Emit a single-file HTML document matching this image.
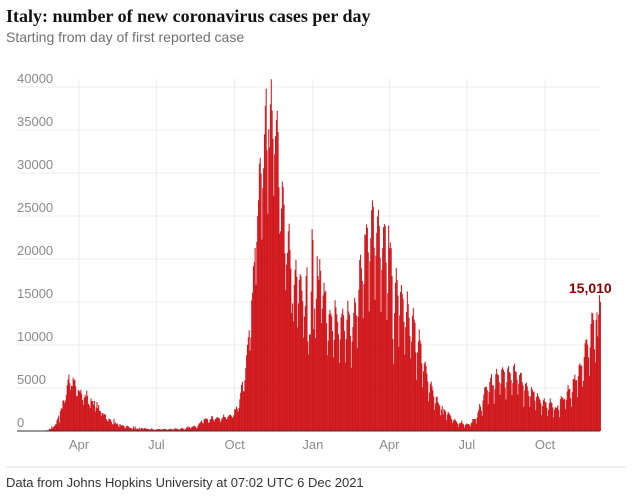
<!DOCTYPE html>
<html><head><meta charset="utf-8">
<style>
body{margin:0;background:#fff;width:640px;height:500px;overflow:hidden}
svg{display:block}
</style></head>
<body>
<svg id="chart" width="640" height="500" xmlns="http://www.w3.org/2000/svg">
<text x="6" y="22" font-family="Liberation Serif, serif" font-weight="bold" font-size="18" fill="#121212">Italy: number of new coronavirus cases per day</text>
<text x="6" y="42" font-family="Liberation Sans, sans-serif" font-size="14" fill="#707070">Starting from day of first reported case</text>
<g id="grid"></g>
<g id="bars"></g>
<g id="axes"></g>
<line x1="6" y1="467" x2="626" y2="467" stroke="#dcdcdc" stroke-width="1"/>
<text x="6" y="487" font-family="Liberation Sans, sans-serif" font-size="13" fill="#333">Data from Johns Hopkins University at 07:02 UTC 6 Dec 2021</text>
</svg>
<script>
const startDate = [2020, 0, 31];
const cases2020 = [0,
0,0,0,0,0,0,0,0,0,0,0,0,0,0,0,0,0,0,0,0,17,62,76,93,78,250,238,240,566,
342,466,587,769,778,1247,1492,1797,977,2313,2651,2547,3497,3590,3233,3526,4207,5322,5986,6557,5560,4789,5249,5210,6203,5909,5974,5217,4050,4053,4782,
4668,4585,4805,4316,3599,3039,3836,4204,3951,4694,4092,3153,2972,2667,3786,3493,3491,3047,3491,2256,2729,3370,2646,3021,2357,2324,1739,2091,2086,1872,
1965,1900,1389,1221,1075,1444,1401,1327,1083,802,744,1402,888,992,789,875,675,451,813,665,642,652,669,531,300,397,584,593,516,416,355,
318,321,177,518,270,518,197,280,283,202,379,163,346,338,301,210,329,333,251,262,224,218,122,190,296,259,175,174,126,142,
187,201,223,235,192,208,138,193,229,276,188,234,169,114,162,230,233,249,219,190,129,282,306,252,275,255,170,181,212,289,379,
295,239,159,190,384,402,552,347,463,259,412,481,523,574,629,479,320,403,642,845,947,1071,1210,953,878,1367,1411,1462,1444,1365,996,
978,1326,1397,1733,1695,1297,1108,1370,1434,1597,1616,1501,1458,1008,1229,1452,1585,1907,1638,1587,1350,1392,1640,1786,1869,1912,1766,1494,1648,1851,
2548,2499,2844,2578,2257,2677,3678,4458,5372,5724,4619,4621,5901,7332,8804,10010,10925,11705,9338,10874,15199,16079,19143,19644,21273,17012,21994,24991,26831,31084,31758,
29907,22253,28244,30550,34505,37809,39811,32616,25271,35098,32961,37978,40902,37255,33979,27354,32191,34282,36176,37242,34767,28337,22930,23232,25853,29003,28352,26323,20648,16377,
19350,20709,23225,24099,21052,18887,13720,14842,12756,16999,18727,19903,17938,12030,14844,17572,18236,17992,16308,15104,10872,13318,14522,18040,19037,10407,8913,11212,11224,16202,23477];
const cases2021 = [
22211,11831,14245,10800,15378,20331,18020,17533,19978,18627,12545,14242,15774,17246,16146,16310,12545,8824,10497,13571,14078,13633,13331,11629,8562,10593,15204,14372,13574,12715,11252,
7925,10630,13189,13659,14218,13442,11641,7970,10680,12956,15146,13908,13532,11068,7351,10386,12074,13762,15479,14931,13452,9630,13314,16424,19886,20499,18916,17455,
13114,17083,22865,22774,24036,23641,20765,13902,19749,22409,25673,26824,26062,21315,15267,20396,23059,24935,25735,23832,20159,13846,18765,21267,23696,24076,23839,19611,12916,16017,23904,
21261,21932,21261,18024,10680,7767,13708,17221,18938,17567,15746,9789,13447,16168,16974,15943,15370,12694,8864,12074,13844,16232,14761,13176,11068,8444,10404,13385,14320,12965,
12603,9148,5948,9116,10404,11807,10554,10176,7852,5080,6946,7852,8085,7567,6659,5753,3455,4452,5506,5741,5218,4717,3995,2490,3224,3937,3995,3351,3147,2949,1820,
2483,2897,1896,2557,2436,2275,1273,1896,2199,2079,1901,1723,1390,907,1199,1255,1400,1197,1055,881,495,835,951,927,1209,887,776,389,679,776,
882,794,808,722,480,907,1010,1394,1390,1400,1391,888,1552,2153,2455,3127,2840,2379,1725,3558,4259,5057,5143,5140,4743,3117,4522,5696,6171,6619,5321,
5321,3190,4845,6596,7230,6599,6500,5664,4197,5512,7162,7409,7126,6857,5023,3674,5676,7260,7548,6860,6700,5922,4168,5559,7548,7826,6927,6860,5959,4257,5498,
6503,6761,6735,5693,5315,2800,4720,5498,5621,5193,4664,4058,2800,4021,5117,4830,4552,4578,3525,2407,3970,4405,4061,3797,3623,3212,1831,2900,3585,3804,
3405,3312,2700,1734,2466,3235,3794,3372,3221,2748,1597,2494,2772,2668,2732,2983,2437,1597,3702,4054,3882,3864,3598,3725,2535,3620,4598,5335,4866,4878,3821,
2818,4526,6019,6049,6550,5879,5917,3917,6372,7685,7884,7569,7622,5144,5825,8605,10212,10629,10638,10047,8560,6404,9709,12448,13764,13686,12877,9503,7973,12930,
13800,11000,13500,15800,15010];
const yTicks = [0,5000,10000,15000,20000,25000,30000,35000,40000];
const monthTicks = [[2020,3,1,"Apr"],[2020,6,1,"Jul"],[2020,9,1,"Oct"],[2021,0,1,"Jan"],[2021,3,1,"Apr"],[2021,6,1,"Jul"],[2021,9,1,"Oct"]];
const lastLabel = "15,010";

const cases = cases2020.concat(cases2021);
const NS = "http://www.w3.org/2000/svg";
const DAY = 86400000;
const t0 = Date.UTC(startDate[0], startDate[1], startDate[2]);
const ppd = 0.8504;
const xRef = Date.UTC(2020,3,1);
function xDay(i){ return 79 + ((t0 + i*DAY) - xRef)/DAY*ppd; }
function xDate(y,m,d){ return 79 + (Date.UTC(y,m,d) - xRef)/DAY*ppd; }
function yv(v){ return 431 - v/40000*344; }
function mk(tag, attrs, parent){ const e=document.createElementNS(NS,tag); for(const k in attrs) e.setAttribute(k,attrs[k]); parent.appendChild(e); return e; }

const grid = document.getElementById('grid');
const bars = document.getElementById('bars');
const axes = document.getElementById('axes');

yTicks.forEach(v=>{
  const y = yv(v);
  const l = mk('line',{x1:17,x2:600,y1:y,y2:y,stroke:'#ececec','stroke-width':1},grid);
  
  
  const t = mk('text',{x:17,y:y-4,'font-family':'Liberation Sans, sans-serif','font-size':13,fill:'#8a8a8a'},axes);
  t.textContent = v;
  
  
});
monthTicks.forEach(m=>{
  const x = xDate(m[0],m[1],m[2]);
  const l = mk('line',{x1:x,x2:x,y1:79,y2:431,stroke:'#ececec','stroke-width':1},grid);
  
  
  const t = mk('text',{x:x,y:449,'text-anchor':'middle','font-family':'Liberation Sans, sans-serif','font-size':13,fill:'#8a8a8a'},axes);
  t.textContent = m[3];
  
  
});
cases.forEach((v,i)=>{
  if(v<=0) return;
  const x = xDay(i);
  const r = mk('rect',{x:x-ppd/2,y:yv(v),width:ppd+0.2,height:431-yv(v),fill:'#d0181d'},bars);
  
  
});
const base = mk('line',{x1:17,x2:600,y1:431,y2:431,stroke:'#333','stroke-width':1},axes);


const li = cases.length-1;
const lbl = mk('text',{x:xDay(li)-10,y:yv(cases[li])-9,'text-anchor':'middle','font-family':'Liberation Sans, sans-serif','font-weight':'bold','font-size':14,fill:'#8b0000'},axes);
lbl.textContent = lastLabel;


</script>
</body></html>
